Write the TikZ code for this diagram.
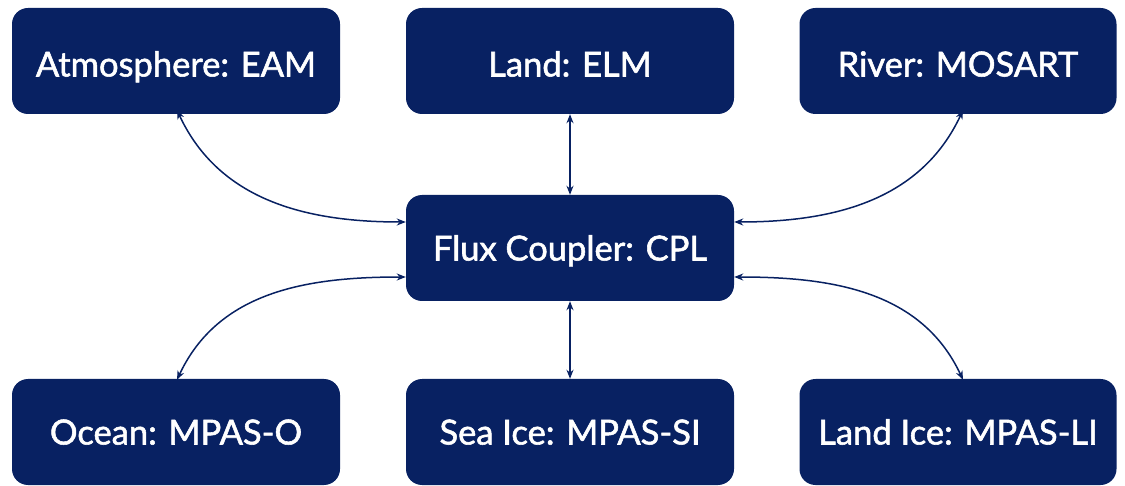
\documentclass[tikz,border=0pt]{standalone}
\usepackage{fontspec}
\setmainfont{Lato}
\newfontfamily\boxfont{Lato}[FakeBold=1.6]
\usetikzlibrary{arrows.meta}
\definecolor{navy}{RGB}{8,33,98}
\tikzset{
  box/.style={fill=navy, rounded corners=16pt, text=white, minimum height=106pt, inner sep=0pt, text height=25pt, text depth=0pt, font=\boxfont\fontsize{34.5}{40}\selectfont},
  wbox/.style={box, minimum width=328pt},
  rbox/.style={box, minimum width=317pt},
  link/.style={draw=navy, line width=1.5pt, {Stealth[length=9pt,width=7pt]}-{Stealth[length=9pt,width=7pt]}}
}
\begin{document}
\begin{tikzpicture}[x=1pt,y=-1pt]
\useasboundingbox (0,0) rectangle (1125,486);
\node[wbox] (atm) at (176,61) {\raisebox{-3pt}{Atmosphere: EAM}};
\node[wbox] (lnd) at (570,61) {\raisebox{-3pt}{Land: ELM}};
\node[rbox] (riv) at (958,61) {\raisebox{-3pt}{River: MOSART}};
\node[wbox] (cpl) at (570,248) {Flux Coupler: CPL};
\node[wbox] (ocn) at (176,432) {Ocean: MPAS-O};
\node[wbox] (ice) at (570,432) {Sea Ice: MPAS-SI};
\node[rbox] (lic) at (958,432) {Land Ice: MPAS-LI};
\coordinate (atmB) at ([xshift=1pt]atm.south);
\coordinate (rivB) at ([xshift=5pt]riv.south);
\coordinate (ocnT) at ([xshift=1pt]ocn.north);
\coordinate (licT) at ([xshift=5pt]lic.north);
\coordinate (cplWa) at ([yshift=26pt]cpl.west);
\coordinate (cplWb) at ([yshift=-29pt]cpl.west);
\coordinate (cplEa) at ([yshift=26pt]cpl.east);
\coordinate (cplEb) at ([yshift=-29pt]cpl.east);
\draw[link] ([yshift=4pt]atmB) to[out=-65,in=180] (cplWa);
\draw[link] ([yshift=4pt]rivB) to[out=-115,in=0] (cplEa);
\draw[link] ([yshift=-1pt]ocnT) to[out=65,in=180] (cplWb);
\draw[link] ([yshift=-1pt]licT) to[out=115,in=0] (cplEb);
\draw[link] (lnd.south) -- (cpl.north);
\draw[link] (cpl.south) -- (ice.north);
\end{tikzpicture}
\end{document}
